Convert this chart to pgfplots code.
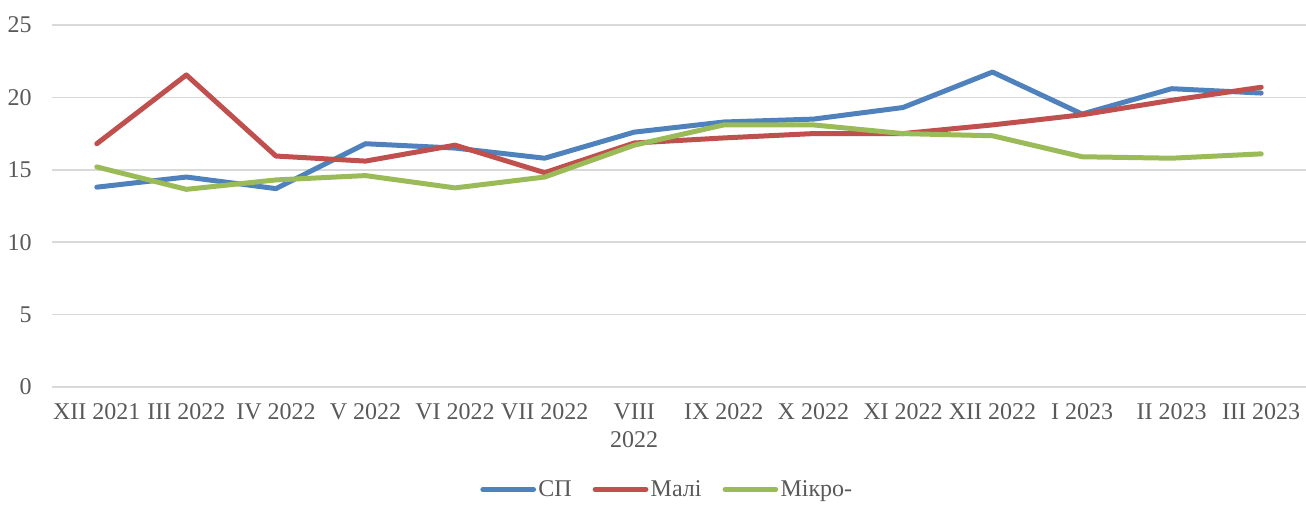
\documentclass[border=0pt]{standalone}
\usepackage{fontspec}
\setmainfont{Liberation Serif}
\usepackage{pgfplots}
\pgfplotsset{compat=1.18}
\definecolor{cblue}{HTML}{4F81BD}
\definecolor{cred}{HTML}{C0504D}
\definecolor{cgreen}{HTML}{9BBB59}
\definecolor{ctext}{HTML}{595959}
\definecolor{cgrid}{HTML}{D9D9D9}

\begin{document}
\begin{tikzpicture}[font=\fontsize{18}{21}\selectfont]
\path[use as bounding box] (-39pt,-88.5pt) rectangle (940.5pt,290.25pt);
\begin{axis}[
  at={(0pt,0pt)}, anchor=south west,
  scale only axis, width=940.5pt, height=271.5pt,
  xmin=-0.5, xmax=13.5, ymin=0, ymax=25,
  xtick={0,...,13},
  xticklabels={XII 2021, III 2022, IV 2022, V 2022, VI 2022, VII 2022, {VIII\\2022}, IX 2022, X 2022, XI 2022, XII 2022, I 2023, II 2023, III 2023},
  ytick={0,5,...,25},
  ymajorgrids, major grid style={cgrid, line width=1.1pt},
  axis line style={draw=none}, tick style={draw=none},
  ticklabel style={text=ctext, font=\fontsize{18}{21}\selectfont},
  xticklabel style={align=center, anchor=north, inner sep=0pt, yshift=-12.5pt},
  yticklabel style={anchor=east, inner sep=0pt, xshift=-15pt},
  /pgf/number format/assume math mode=true,
  legend style={at={(axis description cs:0.4904,-0.283)}, anchor=center, draw=none,
    legend columns=3, font=\fontsize{18}{21}\selectfont, text=ctext,
    /tikz/every odd column/.append style={column sep=0.75pt},
    /tikz/every even column/.append style={column sep=14.75pt},
    nodes={inner sep=1pt}},
  legend image code/.code={\draw[#1] (0pt,0pt) -- (38pt,0pt);},
  every axis plot/.append style={line width=3.75pt, line cap=round, line join=round},
  clip=false,
]
\addplot[cblue] coordinates {(0,13.8) (1,14.5) (2,13.7) (3,16.8) (4,16.5) (5,15.8) (6,17.6) (7,18.3) (8,18.5) (9,19.3) (10,21.75) (11,18.85) (12,20.6) (13,20.3)};
\addlegendentry{СП}
\addplot[cred] coordinates {(0,16.8) (1,21.55) (2,15.95) (3,15.6) (4,16.7) (5,14.8) (6,16.85) (7,17.2) (8,17.5) (9,17.5) (10,18.1) (11,18.8) (12,19.8) (13,20.7)};
\addlegendentry{Малі}
\addplot[cgreen] coordinates {(0,15.2) (1,13.65) (2,14.3) (3,14.6) (4,13.75) (5,14.5) (6,16.7) (7,18.1) (8,18.1) (9,17.5) (10,17.35) (11,15.9) (12,15.8) (13,16.1)};
\addlegendentry{Мікро-}
\end{axis}
\end{tikzpicture}
\end{document}
